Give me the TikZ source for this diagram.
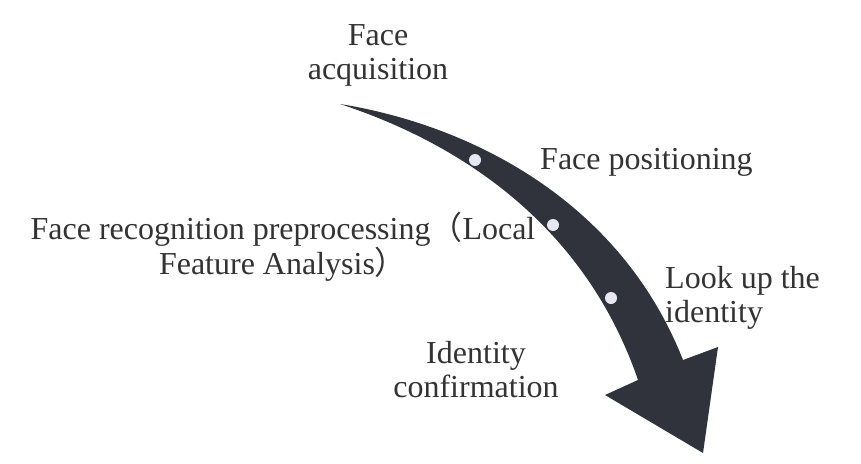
\documentclass[tikz,border=0pt]{standalone}
\usepackage{fontspec}
\setmainfont{Liberation Serif}
\newfontfamily\cjk{Noto Sans CJK SC}
\usepackage{tikz}
\definecolor{arrowgray}{HTML}{30333B}
\definecolor{spotcol}{HTML}{E8E8F2}
\definecolor{txtcol}{HTML}{333333}
\def\spot(#1,#2){\fill [spotcol] (#1,#2) circle [radius=6pt];}
\tikzset{lbl/.style={text=txtcol,inner sep=0pt,font=\fontsize{32}{34}\selectfont}}

\begin{document}
\begin{tikzpicture}[x=1pt,y=-1pt]
\useasboundingbox (0,0) rectangle (861,463);
% the bent arrow
\fill [arrowgray] (340,104) .. controls (470,125) and (620,200) .. (683,360)
  -- (718,347) -- (703,453) -- (605,395) -- (638,380)
  .. controls (590,240) and (480,150) .. (340,104) -- cycle;
\spot(475,160) \spot(553,225) \spot(611,298)
% labels
\node [lbl,align=center] (acq) at (378,55) {Face\\acquisition};
\node [lbl,anchor=west] (pos) at (540,162) {Face positioning};
\node [lbl,align=center] (pre) at (283,247)
  {Face recognition preprocessing{\cjk （}Local\\Feature Analysis{\cjk ）}};
\node [lbl,align=left,anchor=west] (look) at (665,298) {Look up the\\identity};
\node [lbl,align=center] (conf) at (476,370) {Identity\\confirmation};
\end{tikzpicture}
\end{document}
